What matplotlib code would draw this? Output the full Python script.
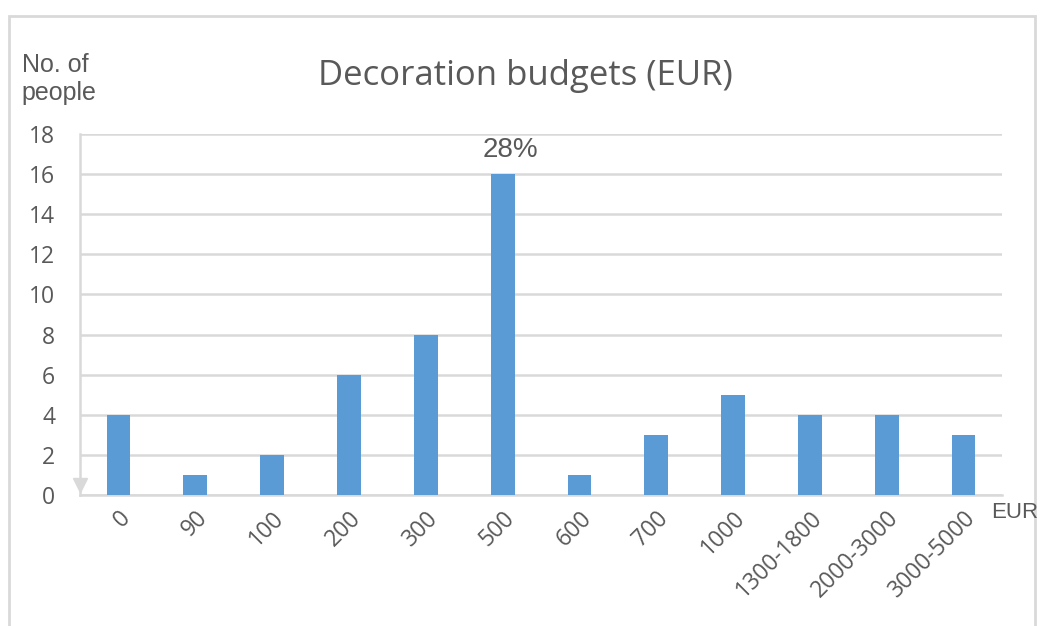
import matplotlib.pyplot as plt
from matplotlib.patches import Rectangle

# Budget categories (EUR) and number of people per category
categories = ['0', '90', '100', '200', '300', '500', '600', '700', '1000',
              '1300-1800', '2000-3000', '3000-5000']
people = [4, 1, 2, 6, 8, 16, 1, 3, 5, 4, 4, 3]
y_ticks = [0, 2, 4, 6, 8, 10, 12, 14, 16, 18]
peak_label = '28%'

grey_line = '#d9d9d9'
grey_text = '#595959'
bar_color = '#5b9bd5'

fig = plt.figure(figsize=(10.42, 6.26), dpi=100)
ax = fig.add_axes([0.0768, 0.2093, 0.8848, 0.5767])

# outer chart frame
fig.patches.append(Rectangle((0.009, -0.05), 0.984, 1.025, transform=fig.transFigure,
                             fill=False, edgecolor=grey_line, linewidth=2))

x = range(len(categories))
ax.bar(x, people, width=0.31, color=bar_color, zorder=3)

ax.set_xlim(-0.5, len(categories) - 0.5)
ax.set_ylim(0, 18)
ax.set_yticks(y_ticks)
ax.yaxis.grid(True, color=grey_line, linewidth=1.8, zorder=0)
ax.set_axisbelow(True)

for side in ['top', 'right']:
    ax.spines[side].set_visible(False)
ax.spines['left'].set_color(grey_line)
ax.spines['left'].set_linewidth(1.8)
ax.spines['bottom'].set_color(grey_line)
ax.spines['bottom'].set_linewidth(1.8)

# small arrow at the bottom of the y axis
ax.plot([-0.5], [0.5], marker='v', color=grey_line, markersize=10, clip_on=False, zorder=4)

ax.tick_params(axis='y', length=0, pad=18, labelsize=16.5, labelcolor=grey_text)
ax.tick_params(axis='x', length=0, pad=8, labelsize=16.5, labelcolor=grey_text)
ax.set_xticks(list(x))
ax.set_xticklabels(categories, rotation=45, ha='right', rotation_mode='anchor',
                   family='Open Sans')
for lab in ax.get_yticklabels():
    lab.set_family('Open Sans')

# percentage above the highest bar
peak = people.index(max(people))
ax.annotate(peak_label, (peak, max(people)), xytext=(6, 8), textcoords='offset points',
            ha='center', va='bottom', fontsize=20, color=grey_text,
            family='Liberation Sans')

fig.text(0.504, 0.878, 'Decoration budgets (EUR)', ha='center', va='center',
         fontsize=25, color=grey_text, family='Open Sans')
fig.text(0.021, 0.874, 'No. of\npeople', ha='left', va='center',
         fontsize=18, color=grey_text, family='Liberation Sans', linespacing=1.22)
fig.text(0.951, 0.182, 'EUR', ha='left', va='center',
         fontsize=16, color=grey_text, family='Liberation Sans')

plt.savefig('out.png', dpi=100)
